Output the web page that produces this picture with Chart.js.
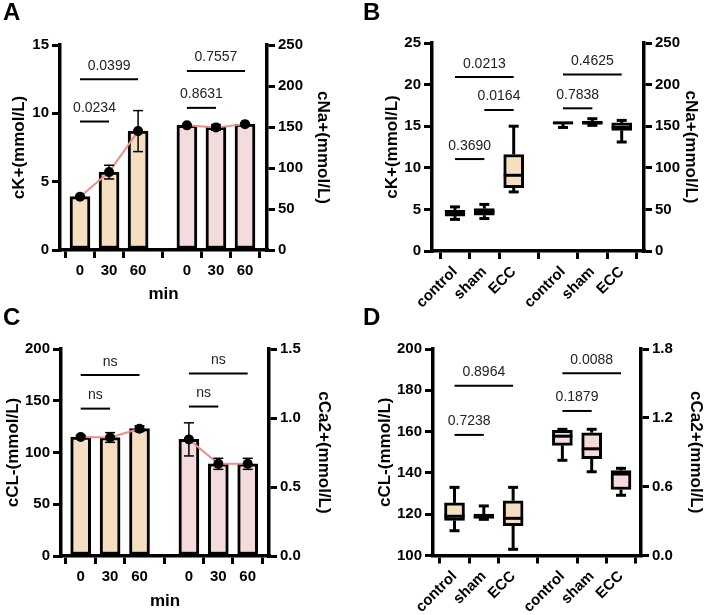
<!DOCTYPE html>
<html>
<head>
<meta charset="utf-8">
<script src="https://cdn.jsdelivr.net/npm/chart.js@4.4.1/dist/chart.umd.min.js"></script>
<style>
  body { margin: 0; background: #fff; }
  #wrap { position: relative; width: 708px; height: 615px; overflow: hidden; }
  #wrap canvas { position: absolute; }
  .tag { position: absolute; font: bold 24px Arial, "Liberation Sans", sans-serif; line-height: 24px; }
</style>
</head>
<body>
<div id="wrap">
  <canvas id="cA" width="354" height="310" style="left:0;top:0"></canvas>
  <canvas id="cB" width="354" height="310" style="left:354px;top:0"></canvas>
  <canvas id="cC" width="354" height="310" style="left:0;top:305px"></canvas>
  <canvas id="cD" width="354" height="310" style="left:354px;top:305px"></canvas>
  <div class="tag" style="left:3px;top:0">A</div>
  <div class="tag" style="left:363px;top:0">B</div>
  <div class="tag" style="left:3px;top:305px">C</div>
  <div class="tag" style="left:363px;top:305px">D</div>
</div>
<script>
// ---- data ----
const timeLabels = ['0', '30', '60'];
const groupLabels = ['control', 'sham', 'ECC'];

// A: mean and error, per time point
const kMean = [3.9, 5.7, 8.7];
const kErr = [0.08, 0.5, 1.5];
const naMean = [152, 149.5, 153.5];
const naErr = [1, 3.5, 1.5];

// B: [min, q1, median, q3, max] per group
const kBox = [[3.8, 4.2, 4.5, 4.9, 5.3], [3.9, 4.3, 4.7, 5.1, 5.6], [7.1, 7.6, 9.1, 11.6, 15.0]];
const naBox = [[148.5, 153, 154, 155, 155], [151, 152.5, 154, 156, 159], [131, 145, 148.5, 154, 157]];

// C
const clMean = [115, 114.5, 123];
const clErr = [1.5, 4.7, 2.7];
const caMean = [0.845, 0.668, 0.668];
const caErr = [0.12, 0.04, 0.04];

// D
const clBox = [[112, 117, 119, 125.5, 133], [117.5, 118, 119, 120, 124], [103, 114.5, 118, 126.5, 133]];
const caBox = [[0.83, 0.96, 1.04, 1.09, 1.10], [0.73, 0.845, 0.93, 1.07, 1.10], [0.525, 0.575, 0.71, 0.74, 0.76]];

// axis ticks
const kTicks = [0, 5, 10, 15];
const naTicks = [0, 50, 100, 150, 200, 250];
const kBoxTicks = [0, 5, 10, 15, 20, 25];
const clTicks = [0, 50, 100, 150, 200];
const caTicks = [0, 0.5, 1.0, 1.5];
const clBoxTicks = [100, 120, 140, 160, 180, 200];
const caBoxTicks = [0, 0.6, 1.2, 1.8];

// p values: [from group, to group, height on left axis, text]
const pA = [[0, 1, 9.4, '0.0234'], [0, 2, 12.5, '0.0399'], [3, 4, 10.4, '0.8631'], [3, 5, 13.1, '0.7557']];
const pB = [[0, 1, 11.05, '0.3690'], [0, 2, 20.9, '0.0213'], [1, 2, 16.95, '0.0164'], [3, 4, 17.15, '0.7838'], [3, 5, 21.2, '0.4625']];
const pC = [[0, 1, 142.4, 'ns'], [0, 2, 174.8, 'ns'], [3, 4, 144.4, 'ns'], [3, 5, 176.4, 'ns']];
const pD = [[0, 1, 158.4, '0.7238'], [0, 2, 182.2, '0.8964'], [3, 4, 170, '0.1879'], [3, 5, 188.3, '0.0088']];

// ---- layout / style ----
const slots = [1, 2, 3, 4.68, 5.68, 6.68];
const FONT = 'Arial, "Liberation Sans", sans-serif';
const BEIGE = '#f6dfc0';
const PINK = '#f5dcdc';
const SALMON = '#ec8f8f';
const W = 354, H = 310;

function seg(ctx, x1, y1, x2, y2) {
  ctx.beginPath();
  ctx.moveTo(x1, y1);
  ctx.lineTo(x2, y2);
  ctx.stroke();
}

// error bars, box whiskers and p-value brackets
function extras(brackets) {
  return {
    id: 'extras',
    afterDatasetsDraw(chart) {
      const ctx = chart.ctx;
      const xs = chart.scales.x;
      ctx.save();
      ctx.strokeStyle = '#000';
      ctx.lineCap = 'butt';
      chart.data.datasets.forEach((ds, di) => {
        const meta = chart.getDatasetMeta(di);
        const ys = chart.scales[ds.yAxisID];
        if (ds.errorBars) {
          ctx.lineWidth = 1.5;
          meta.data.forEach((pt, i) => {
            const m = ds.data[i].y, e = ds.errorBars[i];
            const t = ys.getPixelForValue(m + e), b = ys.getPixelForValue(m - e);
            seg(ctx, pt.x, t, pt.x, b);
            seg(ctx, pt.x - 5, t, pt.x + 5, t);
            seg(ctx, pt.x - 5, b, pt.x + 5, b);
          });
        }
        if (ds.boxes) {
          ctx.lineWidth = 3;
          meta.data.forEach((bar, i) => {
            const [mn, q1, md, q3, mx] = ds.boxes[i];
            const half = bar.width / 2;
            const pMax = ys.getPixelForValue(mx), pMin = ys.getPixelForValue(mn);
            const pQ1 = ys.getPixelForValue(q1), pQ3 = ys.getPixelForValue(q3);
            if (mx > q3) {
              seg(ctx, bar.x, pQ3, bar.x, pMax);
              seg(ctx, bar.x - 5, pMax, bar.x + 5, pMax);
            }
            if (mn < q1) {
              seg(ctx, bar.x, pQ1, bar.x, pMin);
              seg(ctx, bar.x - 5, pMin, bar.x + 5, pMin);
            }
            const pMd = ys.getPixelForValue(md);
            seg(ctx, bar.x - half, pMd, bar.x + half, pMd);
          });
        }
      });
      const yl = chart.scales.yL;
      ctx.lineWidth = 2;
      ctx.fillStyle = '#222';
      ctx.font = '14px ' + FONT;
      ctx.textAlign = 'center';
      ctx.textBaseline = 'alphabetic';
      brackets.forEach(([a, b, h, txt]) => {
        const x1 = xs.getPixelForValue(slots[a]), x2 = xs.getPixelForValue(slots[b]);
        const y = yl.getPixelForValue(h);
        seg(ctx, x1, y, x2, y);
        ctx.fillText(txt, (x1 + x2) / 2, y - 9.5);
      });
      ctx.restore();
    }
  };
}

const tickFont = { family: FONT, size: 15, weight: 'bold' };
const titleFont = { family: FONT, size: 17, weight: 'bold' };
const axisGrid = {
  drawOnChartArea: false, lineWidth: 3, tickLength: 8, tickWidth: 3, tickColor: '#000',
  color: '#000', borderWidth: 3.5, borderColor: '#000'
};
const axisBorder = { display: true, color: '#000', width: 3.5 };

function yAxis(side, geo, ticks, title, pad, fmt) {
  return {
    type: 'linear',
    position: side,
    z: 1,
    min: ticks[0],
    max: ticks[ticks.length - 1],
    afterBuildTicks: s => { s.ticks = ticks.map(v => ({ value: v })); },
    afterFit: s => { s.width = side === 'left' ? geo.left : W - geo.right; },
    ticks: { color: '#000', font: tickFont, padding: 3, callback: v => fmt ? fmt(v) : v },
    grid: axisGrid,
    border: axisBorder,
    title: { display: true, text: title, color: '#000', font: titleFont, padding: { top: pad, bottom: 0 } }
  };
}

function panel(id, geo, cfg) {
  const u = (geo.last - geo.first) / (slots[5] - slots[0]);
  const xMin = slots[0] - (geo.first - geo.left) / u;
  const xMax = xMin + (geo.right - geo.left) / u;
  const labels = cfg.labels.concat(cfg.labels);
  new Chart(document.getElementById(id), {
    type: 'bar',
    data: { datasets: cfg.datasets },
    options: {
      responsive: false,
      animation: false,
      layout: { padding: { top: geo.top, left: 0, right: 0, bottom: 0 } },
      plugins: { legend: { display: false }, tooltip: { enabled: false } },
      scales: {
        x: {
          type: 'linear',
          bounds: 'data',
          offset: false,
          z: 1,
          min: xMin,
          max: xMax,
          afterBuildTicks: s => { s.ticks = slots.map(v => ({ value: v })); },
          afterFit: s => { s.height = H - geo.bottom; },
          ticks: {
            color: '#000', font: tickFont, padding: 4, autoSkip: false,
            minRotation: cfg.rotate, maxRotation: cfg.rotate,
            callback: (v, i) => labels[i]
          },
          grid: axisGrid,
          border: axisBorder,
          title: {
            display: !!cfg.xTitle, text: cfg.xTitle, color: '#000',
            font: titleFont, padding: { top: 0, bottom: cfg.xPad || 0 }
          }
        },
        yL: yAxis('left', geo, cfg.yL.ticks, cfg.yL.title, cfg.yL.pad, cfg.yL.fmt),
        yR: yAxis('right', geo, cfg.yR.ticks, cfg.yR.title, cfg.yR.pad, cfg.yR.fmt)
      }
    },
    plugins: [extras(cfg.brackets)]
  });
}

function barSet(vals, off, axis, color) {
  return {
    type: 'bar', yAxisID: axis, order: 2, grouped: false,
    data: vals.map((v, i) => ({ x: slots[off + i], y: v })),
    backgroundColor: color, borderColor: '#000', borderWidth: 3,
    borderSkipped: false, barThickness: 20
  };
}

function meanLine(vals, errs, off, axis) {
  return {
    type: 'line', yAxisID: axis, order: 1,
    data: vals.map((v, i) => ({ x: slots[off + i], y: v })),
    errorBars: errs,
    borderColor: SALMON, borderWidth: 2,
    pointRadius: 5, pointBackgroundColor: '#000', pointBorderWidth: 0
  };
}

function boxSet(boxes, off, axis, color) {
  return {
    type: 'bar', yAxisID: axis, order: 2, grouped: false,
    data: boxes.map((b, i) => ({ x: slots[off + i], y: [b[1], b[3]] })),
    boxes: boxes,
    backgroundColor: color, borderColor: '#000', borderWidth: 3,
    borderSkipped: false, barThickness: 20
  };
}

const fix1 = v => v.toFixed(1);

panel('cA', { left: 60, right: 267, top: 45, bottom: 250, first: 80, last: 245 }, {
  labels: timeLabels, rotate: 0, xTitle: 'min', xPad: 5,
  yL: { ticks: kTicks, title: 'cK+(mmol/L)', pad: 9 },
  yR: { ticks: naTicks, title: 'cNa+(mmol/L)', pad: 21 },
  datasets: [
    meanLine(kMean, kErr, 0, 'yL'), meanLine(naMean, naErr, 3, 'yR'),
    barSet(kMean, 0, 'yL', BEIGE), barSet(naMean, 3, 'yR', PINK)
  ],
  brackets: pA
});

panel('cB', { left: 78, right: 290, top: 43, bottom: 251, first: 101, last: 267.7 }, {
  labels: groupLabels, rotate: 45,
  yL: { ticks: kBoxTicks, title: 'cK+(mmol/L)', pad: 28 },
  yR: { ticks: naTicks, title: 'cNa+(mmol/L)', pad: 7 },
  datasets: [boxSet(kBox, 0, 'yL', BEIGE), boxSet(naBox, 3, 'yR', PINK)],
  brackets: pB
});

panel('cC', { left: 61, right: 269, top: 44, bottom: 251, first: 80.7, last: 247.7 }, {
  labels: timeLabels, rotate: 0, xTitle: 'min', xPad: 3,
  yL: { ticks: clTicks, title: 'cCL-(mmol/L)', pad: 3 },
  yR: { ticks: caTicks, title: 'cCa2+(mmol/L)', pad: 20, fmt: fix1 },
  datasets: [
    meanLine(clMean, clErr, 0, 'yL'), meanLine(caMean, caErr, 3, 'yR'),
    barSet(clMean, 0, 'yL', BEIGE), barSet(caMean, 3, 'yR', PINK)
  ],
  brackets: pC
});

panel('cD', { left: 79, right: 287, top: 44, bottom: 250.5, first: 100.5, last: 267 }, {
  labels: groupLabels, rotate: 45,
  yL: { ticks: clBoxTicks, title: 'cCL-(mmol/L)', pad: 21 },
  yR: { ticks: caBoxTicks, title: 'cCa2+(mmol/L)', pad: 2, fmt: fix1 },
  datasets: [boxSet(clBox, 0, 'yL', BEIGE), boxSet(caBox, 3, 'yR', PINK)],
  brackets: pD
});
</script>
</body>
</html>
